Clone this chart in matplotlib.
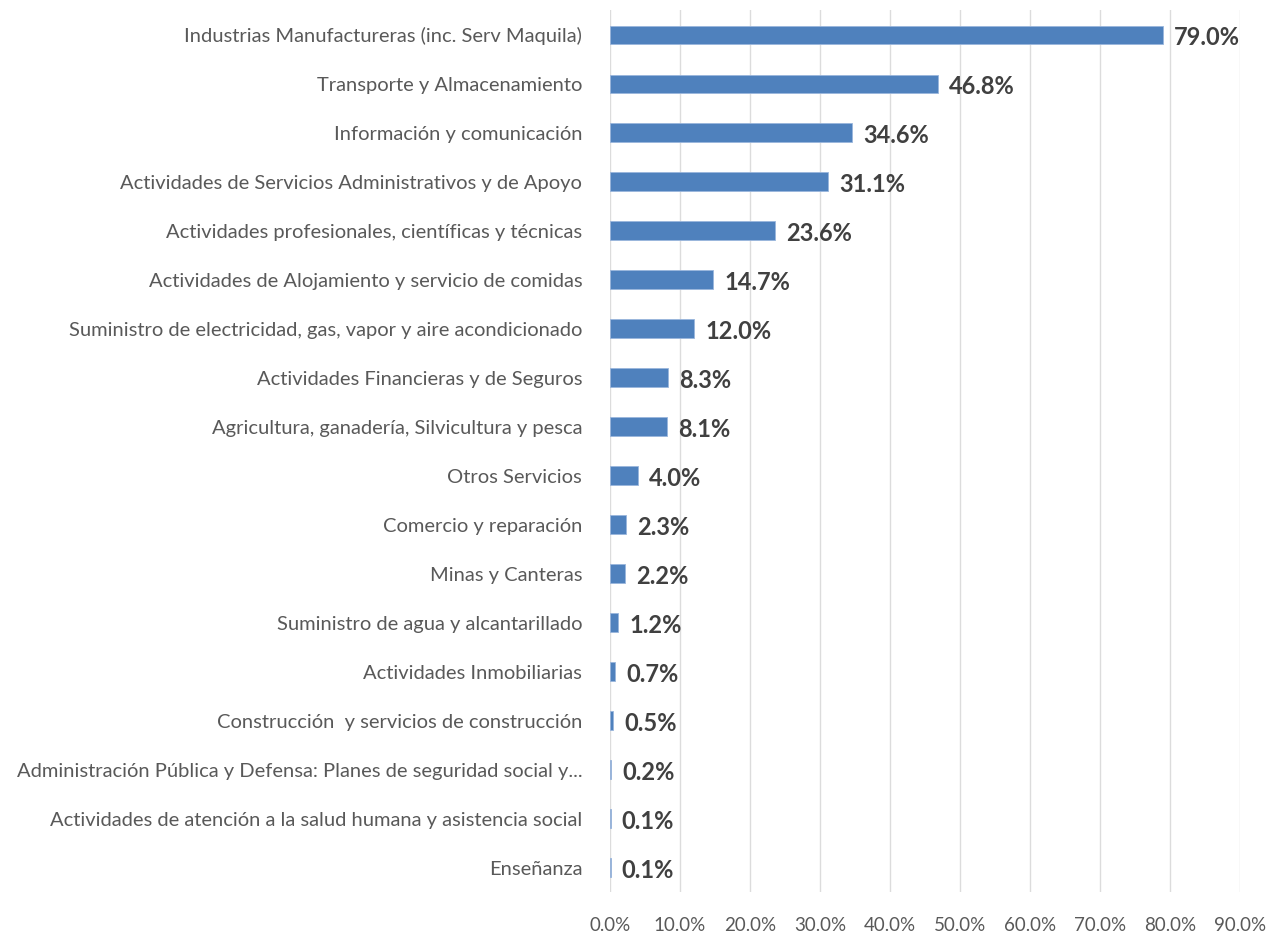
import numpy as np
import matplotlib.pyplot as plt

plt.rcParams['font.family'] = ['Lato', 'DejaVu Sans']

# sectors, top to bottom
sectores = [
    'Industrias Manufactureras (inc. Serv Maquila)',
    'Transporte y Almacenamiento',
    'Información y comunicación',
    'Actividades de Servicios Administrativos y de Apoyo',
    'Actividades profesionales, científicas y técnicas',
    'Actividades de Alojamiento y servicio de comidas',
    'Suministro de electricidad, gas, vapor y aire acondicionado',
    'Actividades Financieras y de Seguros',
    'Agricultura, ganadería, Silvicultura y pesca',
    'Otros Servicios',
    'Comercio y reparación',
    'Minas y Canteras',
    'Suministro de agua y alcantarillado',
    'Actividades Inmobiliarias',
    'Construcción  y servicios de construcción',
    'Administración Pública y Defensa: Planes de seguridad social y...',
    'Actividades de atención a la salud humana y asistencia social',
    'Enseñanza',
]
valores = [79.0, 46.8, 34.6, 31.1, 23.6, 14.7, 12.0, 8.3, 8.1, 4.0,
           2.3, 2.2, 1.2, 0.7, 0.5, 0.2, 0.1, 0.1]
ticks = np.arange(0, 91, 10)

fig = plt.figure(figsize=(12.68, 9.4), dpi=100)
ax = fig.add_axes([0.481, 0.051, 0.497, 0.938])

y = np.arange(len(sectores))
ax.barh(y, valores, height=0.38, color='#4f81bd', edgecolor='#9ab6dc', linewidth=0.6, zorder=3)
for yi, v in zip(y, valores):
    ax.text(v + 1.6, yi + 0.05, f'{v:.1f}%', va='center', ha='left', fontsize=17,
            fontweight='bold', color='#404040', zorder=4)

ax.set_yticks(y)
ax.set_yticklabels(sectores, fontsize=14.5, color='#595959')
ax.set_ylim(len(sectores) - 0.5, -0.5)
ax.set_xlim(0, 90)
ax.set_xticks(ticks)
ax.set_xticklabels([f'{t:.1f}%' for t in ticks], fontsize=13.5, color='#595959')
ax.tick_params(axis='both', length=0)
ax.tick_params(axis='y', pad=20)
ax.tick_params(axis='x', pad=18)
ax.grid(axis='x', color='#dcdcdc', linewidth=1.0, zorder=0)
for s in ax.spines.values():
    s.set_visible(False)

fig.savefig('out.png', dpi=100)
